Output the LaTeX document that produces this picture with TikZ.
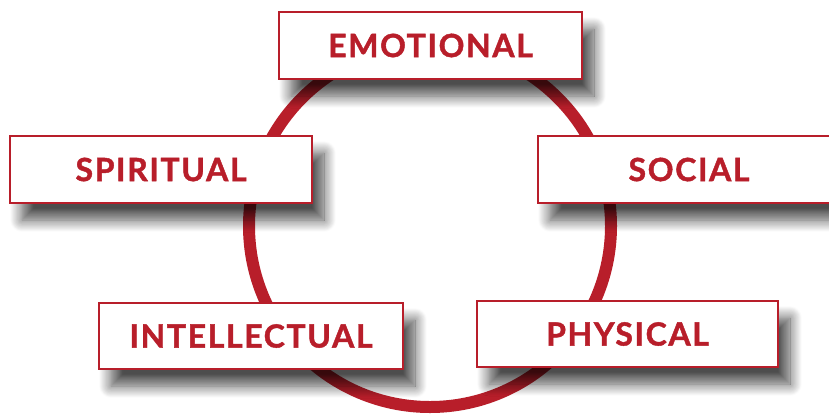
\documentclass[tikz,border=0pt]{standalone}
\usepackage{fontspec}
\setmainfont{Lato}
\newfontfamily\boxfont[LetterSpace=5,BoldFeatures={FakeBold=1.3}]{Lato}
\usetikzlibrary{shadows.blur}
\definecolor{ringred}{HTML}{B81E2A}
\begin{document}
\begin{tikzpicture}[x=1pt,y=-1pt,
  labelbox/.style={draw=ringred, line width=2pt, fill=white, inner sep=0pt,
    text=ringred, font=\boxfont\fontsize{32}{34}\selectfont\bfseries,
    blur shadow={shadow xshift=12pt, shadow yshift=-17pt, shadow blur radius=12pt, shadow opacity=70, shadow blur steps=16}},
  ring/.style={draw=ringred, line width=12pt}]
\useasboundingbox (0,0) rectangle (829,416);
\draw[ring] (430,226) circle[radius=181];
\node[labelbox, minimum width=303pt, minimum height=67pt] (emo) at (430.5,45.5) {EMOTIONAL};
\node[labelbox, minimum width=302pt, minimum height=67pt] (spi) at (161,169.5) {SPIRITUAL};
\node[labelbox, minimum width=302pt, minimum height=67pt] (soc) at (689,169.5) {SOCIAL};
\node[labelbox, minimum width=304pt, minimum height=66pt] (int) at (251,336) {INTELLECTUAL};
\node[labelbox, minimum width=301pt, minimum height=66pt] (phy) at (627.5,334) {PHYSICAL};
\end{tikzpicture}
\end{document}
